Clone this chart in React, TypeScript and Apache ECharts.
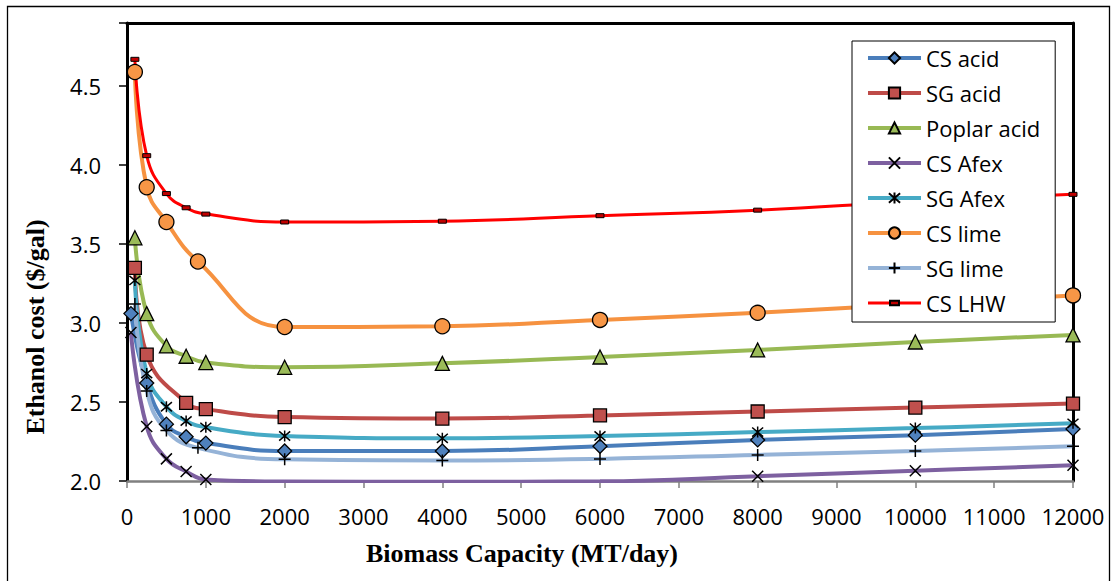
import React, { useEffect, useRef } from "react";
import * as echarts from "echarts";

// ---- data ----
const capacity = [100, 250, 500, 750, 1000, 2000, 4000, 6000, 8000, 10000, 12000];
const csAcidX = [50, 250, 500, 750, 1000, 2000, 4000, 6000, 8000, 10000, 12000];
const csAcidY = [3.06, 2.62, 2.36, 2.28, 2.24, 2.19, 2.19, 2.22, 2.26, 2.29, 2.33];
const sgAcidX = [100, 250, 750, 1000, 2000, 4000, 6000, 8000, 10000, 12000];
const sgAcidY = [3.35, 2.8, 2.495, 2.455, 2.405, 2.395, 2.415, 2.44, 2.465, 2.49];
const poplarAcidY = [3.54, 3.06, 2.855, 2.79, 2.75, 2.72, 2.745, 2.785, 2.83, 2.88, 2.925];
const csAfexX = [50, 250, 500, 750, 1000, 2000, 4000, 6000, 8000, 10000, 12000];
const csAfexY = [2.94, 2.345, 2.14, 2.06, 2.01, 1.997, 1.995, 1.998, 2.03, 2.065, 2.1];
const sgAfexY = [3.27, 2.68, 2.47, 2.38, 2.34, 2.285, 2.27, 2.285, 2.31, 2.335, 2.365];
const limeX = [100, 250, 500, 900, 2000, 4000, 6000, 8000, 10000, 12000];
const csLimeY = [4.59, 3.86, 3.64, 3.39, 2.975, 2.98, 3.02, 3.065, 3.12, 3.175];
const sgLimeY = [3.12, 2.57, 2.32, 2.21, 2.137, 2.13, 2.14, 2.165, 2.19, 2.22];
const csLhwY = [4.67, 4.06, 3.82, 3.73, 3.69, 3.64, 3.645, 3.68, 3.715, 3.77, 3.815];

const xTicks = { min: 0, max: 12000, interval: 1000 };
const yTicks = { min: 2.0, max: 4.9, interval: 0.5 };

const zip = (xs: number[], ys: number[]) => xs.map((x, i) => [x, ys[i]]);

const CROSS = "path://M0,0L10,10M0,10L10,0";
const STAR = "path://M0,0L10,10M0,10L10,0M5,-1L5,11";
const PLUS = "path://M5,0L5,10M0,5L10,5";
const DASH = "path://M0,0M10,10M1,3L9,3L9,7L1,7Z";

type S = {
  name: string;
  data: number[][];
  line: string;
  lw: number;
  symbol: string;
  size: number;
  fill: string;
  border: number;
};

export default function App() {
  const ref = useRef<HTMLDivElement>(null);
  useEffect(() => {
    if (!ref.current) return;
    const chart = echarts.init(ref.current, undefined, { renderer: "svg" });
    const defs: S[] = [
      { name: "CS acid", data: zip(csAcidX, csAcidY), line: "#4A7EBB", lw: 4, symbol: "diamond", size: 14, fill: "#4F81BD", border: 1.3 },
      { name: "SG acid", data: zip(sgAcidX, sgAcidY), line: "#BE4B48", lw: 4, symbol: "rect", size: 13, fill: "#C0504D", border: 1.3 },
      { name: "Poplar acid", data: zip(capacity, poplarAcidY), line: "#98B954", lw: 4, symbol: "triangle", size: 14, fill: "#9BBB59", border: 1.3 },
      { name: "CS Afex", data: zip(csAfexX, csAfexY), line: "#7D60A0", lw: 4, symbol: CROSS, size: 11, fill: "#000", border: 1.5 },
      { name: "SG Afex", data: zip(capacity, sgAfexY), line: "#46AAC5", lw: 4, symbol: STAR, size: 11, fill: "#000", border: 1.5 },
      { name: "CS lime", data: zip(limeX, csLimeY), line: "#F69240", lw: 4, symbol: "circle", size: 15, fill: "#F79646", border: 1.3 },
      { name: "SG lime", data: zip(limeX, sgLimeY), line: "#95B3D7", lw: 4, symbol: PLUS, size: 12, fill: "#000", border: 1.5 },
      { name: "CS LHW", data: zip(capacity, csLhwY), line: "#FF0000", lw: 3, symbol: DASH, size: 10, fill: "#C00000", border: 1 },
    ];
    const tickFont = { fontFamily: "Open Sans", fontSize: 22, color: "#000" };
    chart.setOption({
      animation: false,
      backgroundColor: "#fff",
      grid: { left: 127, right: 41, top: 23, bottom: 100 },
      xAxis: [
        {
          type: "value",
          ...xTicks,
          axisLine: { show: true, lineStyle: { color: "#808080", width: 2.5 } },
          axisTick: { show: true, length: 7, lineStyle: { color: "#808080", width: 1.5 } },
          axisLabel: { ...tickFont, margin: 24, formatter: (v: number) => String(v) },
          splitLine: { show: false },
        },
        {
          type: "value",
          position: "top",
          ...xTicks,
          axisLine: { show: true, onZero: false, lineStyle: { color: "#000", width: 3 } },
          axisTick: { show: false },
          axisLabel: { show: false },
          splitLine: { show: false },
        },
      ],
      yAxis: [
        {
          type: "value",
          ...yTicks,
          axisLine: { show: true, onZero: false, lineStyle: { color: "#000", width: 3 } },
          axisTick: { show: true, length: 8, lineStyle: { color: "#000", width: 1.5 } },
          axisLabel: {
            ...tickFont,
            margin: 26,
            formatter: (v: number) =>
              Math.abs(v * 2 - Math.round(v * 2)) < 1e-6 ? v.toFixed(1) : "",
          },
          splitLine: { show: false },
        },
        {
          type: "value",
          position: "right",
          ...yTicks,
          axisLine: { show: true, onZero: false, lineStyle: { color: "#000", width: 3 } },
          axisTick: { show: false },
          axisLabel: { show: false },
          splitLine: { show: false },
        },
      ],
      legend: {
        orient: "vertical",
        left: 852,
        top: 41,
        padding: [6, 15, 8, 14],
        backgroundColor: "#fff",
        borderColor: "#000",
        borderWidth: 1,
        itemWidth: 53,
        itemHeight: 14,
        itemGap: 13,
        textStyle: { fontFamily: "Open Sans", fontSize: 22, lineHeight: 22, color: "#000" },
        data: defs.map((d) => ({ name: d.name, lineStyle: { width: d.lw } })),
      },
      graphic: [
        {
          type: "rect",
          silent: true,
          shape: { x: 7.5, y: 6.5, width: 1102, height: 600 },
          style: { fill: "none", stroke: "#000", lineWidth: 1.3 },
        },
        {
          type: "text",
          x: 522,
          y: 553,
          style: {
            text: "Biomass Capacity (MT/day)",
            fontFamily: "Liberation Serif",
            fontWeight: "bold",
            fontSize: 26,
            fill: "#000",
            align: "center",
            verticalAlign: "middle",
          },
        },
        {
          type: "text",
          x: 35,
          y: 327,
          rotation: Math.PI / 2,
          style: {
            text: "Ethanol cost ($/gal)",
            fontFamily: "Liberation Serif",
            fontWeight: "bold",
            fontSize: 26,
            fill: "#000",
            align: "center",
            verticalAlign: "middle",
          },
        },
      ],
      series: defs.map((d) => ({
        name: d.name,
        type: "line",
        data: d.data,
        smooth: 0.45,
        clip: true,
        symbol: d.symbol,
        symbolSize: d.size,
        showAllSymbol: true,
        lineStyle: { color: d.line, width: d.lw },
        itemStyle: { color: d.fill, borderColor: "#000", borderWidth: d.border },
        emphasis: { disabled: true },
      })),
    });
    return () => chart.dispose();
  }, []);
  return (
    <div
      ref={ref}
      style={{ position: "absolute", left: 0, top: 0, width: 1114, height: 581 }}
    />
  );
}
